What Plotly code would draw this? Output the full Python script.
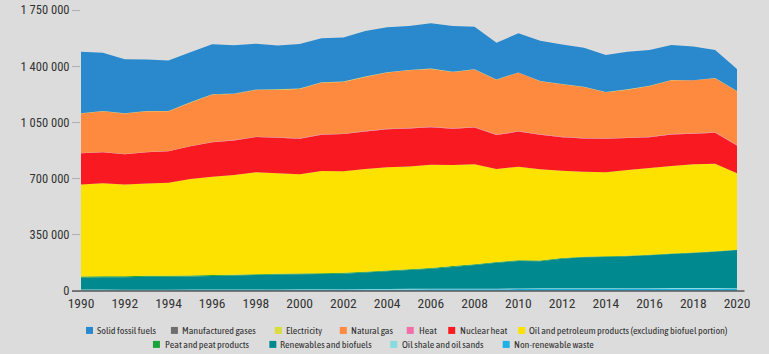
import plotly.graph_objects as go

years = list(range(1990, 2021))

non_renewable_waste = [4000, 4200, 4500, 4800, 5200, 5600, 6000, 6400, 6900, 7300, 7800, 8200, 8600, 9000, 9500, 9900,
                       10300, 10800, 11200, 11000, 11900, 12300, 12600, 12800, 13000, 13300, 13600, 13900, 14200, 14500, 14100]
oil_shale = [4800, 4500, 3700, 3300, 3300, 3400, 3300, 3300, 3100, 2800, 2900, 2900, 2800, 3400, 3500, 3500,
             3400, 3700, 3500, 3500, 4200, 4400, 4200, 4800, 4900, 4200, 4000, 4800, 4500, 3900, 2400]
renewables = [74200, 76300, 77800, 79900, 80500, 82000, 83700, 86300, 90000, 91900, 93300, 94900, 96600, 102600,
              110000, 117600, 125300, 135500, 147300, 161500, 170900, 168300, 184200, 192400, 194100, 198500,
              204400, 211300, 218300, 226600, 238500]
peat = [7000, 6500, 6000, 6300, 5800, 6100, 5900, 5500, 4800, 5200, 5000, 5300, 5100, 5400, 4900, 4300,
        4800, 5000, 4700, 4100, 4800, 4400, 4000, 3900, 3700, 3500, 3600, 3300, 3500, 2900, 2300]
oil = [574000, 579500, 571000, 575700, 579200, 599900, 613100, 620500, 634200, 625800, 618000, 635700, 631900,
       639600, 642100, 640700, 643200, 630000, 622300, 579900, 582200, 568600, 544000, 529100, 523300, 534500,
       540400, 544700, 548500, 544100, 475700]
nuclear = [193200, 193000, 188000, 194000, 195900, 203800, 213700, 215700, 219600, 221500, 221400, 226300, 232200,
           233100, 238000, 236000, 233000, 225000, 229000, 211100, 219000, 215200, 209100, 207100, 209300, 198200,
           192200, 197200, 190200, 193200, 173300]
heat = [1800, 2000, 2000, 2000, 2100, 2200, 2300, 2300, 2400, 2500, 2600, 2700, 2800, 2900, 3000, 3000,
        3000, 3000, 3000, 2900, 3000, 2800, 2900, 2900, 2700, 2800, 2800, 2800, 2800, 2800, 2700]
natural_gas = [246000, 253000, 252000, 253000, 247000, 270000, 295000, 287000, 291000, 297000, 307000, 322000,
               322000, 337000, 349000, 359000, 360000, 351000, 358000, 342000, 364000, 330000, 326000, 317000,
               286000, 299000, 316000, 334000, 330000, 337000, 335000]
electricity = [1500, 1800, 2100, 2000, 2300, 2100, 1900, 2200, 2000, 2300, 2500, 2100, 2400, 2200, 2000, 2300,
               2100, 1700, 1400, 1500, 1300, 1600, 1400, 1500, 1700, 1800, 1600, 1300, 1100, 1200, 1000]
manufactured_gases = [600, 550, 500, 480, 450, 420, 400, 380, 360, 340, 320, 300, 290, 280, 270, 260,
                      250, 240, 230, 220, 210, 200, 200, 190, 180, 170, 170, 160, 150, 150, 140]
solid_fossil = [383000, 363000, 336000, 320000, 313000, 311000, 311000, 301000, 286000, 272000, 278000, 274000,
                274000, 284000, 280000, 274000, 282000, 284000, 265000, 229000, 243000, 251000, 247000, 243000,
                231000, 234000, 222000, 218000, 210000, 174000, 137000]

y_ticks = [0, 350000, 700000, 1050000, 1400000, 1750000]
x_ticks = list(range(1990, 2021, 2))

# bottom-to-top stacking order
series = [
    ("Non-renewable waste", non_renewable_waste, "#1fb0e6"),
    ("Oil shale and oil sands", oil_shale, "#86dcdc"),
    ("Renewables and biofuels", renewables, "#00898f"),
    ("Peat and peat products", peat, "#1aa33a"),
    ("Oil and petroleum products (excluding biofuel portion)", oil, "#fde200"),
    ("Nuclear heat", nuclear, "#f81a20"),
    ("Heat", heat, "#f06fa9"),
    ("Natural gas", natural_gas, "#fd8a3f"),
    ("Electricity", electricity, "#d9dc3a"),
    ("Manufactured gases", manufactured_gases, "#6e6e6e"),
    ("Solid fossil fuels", solid_fossil, "#2a88cc"),
]
colors = {n: c for n, _, c in series}

# legend layout: (name, square left px, text left px)
legend_row1 = [("Solid fossil fuels", 86, 96), ("Manufactured gases", 171, 181.5), ("Electricity", 275, 285.5),
               ("Natural gas", 340, 350.5), ("Heat", 407, 418), ("Nuclear heat", 448.5, 459),
               ("Oil and petroleum products (excluding biofuel portion)", 518.5, 528.5)]
legend_row2 = [("Peat and peat products", 153, 164), ("Renewables and biofuels", 269.5, 279.5),
               ("Oil shale and oil sands", 390.5, 401.5), ("Non-renewable waste", 503, 513)]

FONT = "Roboto Condensed, Roboto, sans-serif"
LEGEND_FONT = "Asap Condensed, Roboto Condensed, sans-serif"
W, H = 769, 354
L, R, T, B = 81, 31.5, 9.5, 63
PW, PH = W - L - R, H - T - B


def px_x(px):
    return (px - L) / PW


def px_y(py):
    return (H - B - py) / PH


fig = go.Figure()
for name, vals, color in series:
    fig.add_trace(go.Scatter(
        x=years, y=vals, name=name, stackgroup="one", mode="none",
        fillcolor=color, line=dict(width=0), showlegend=False,
    ))

shapes = []
annotations = []
for row, ypx in ((legend_row1, 330.5), (legend_row2, 344.5)):
    for name, sq, tx in row:
        shapes.append(dict(type="rect", xref="paper", yref="paper",
                           x0=px_x(sq), x1=px_x(sq + 7), y0=px_y(ypx + 3.5), y1=px_y(ypx - 3.5),
                           fillcolor=colors[name], line=dict(width=0)))
        annotations.append(dict(text=name, xref="paper", yref="paper", x=px_x(tx), y=px_y(ypx),
                                xanchor="left", yanchor="middle", showarrow=False, borderpad=0,
                                font=dict(size=10, family=LEGEND_FONT, color="#333333")))

# extended baseline
shapes.append(dict(type="line", xref="paper", yref="paper", x0=px_x(72), x1=px_x(745), y0=0, y1=0,
                   line=dict(color="#5a5a5a", width=1.5)))

fig.update_layout(
    width=W, height=H,
    margin=dict(l=L, r=R, t=T, b=B, autoexpand=False),
    paper_bgcolor="#dcdcdc", plot_bgcolor="#dcdcdc",
    separators=". ",
    showlegend=False,
    font=dict(family=FONT, color="#333333", size=12),
    xaxis=dict(range=[1990, 2020], tickmode="array", tickvals=x_ticks,
               showgrid=False, zeroline=False, showline=False,
               ticks="", tickfont=dict(size=13.5, family=FONT, color="#333333"), ticklabelstandoff=2),
    yaxis=dict(range=[0, 1750000], tickmode="array", tickvals=y_ticks,
               tickformat=",d", showgrid=False, zeroline=False, showline=False,
               ticks="outside", ticklen=8, tickcolor="#b0b0b0", tickwidth=1,
               tickfont=dict(size=12.5, family=FONT, color="#333333")),
    shapes=shapes,
    annotations=annotations,
)

fig.write_html("out.html")
